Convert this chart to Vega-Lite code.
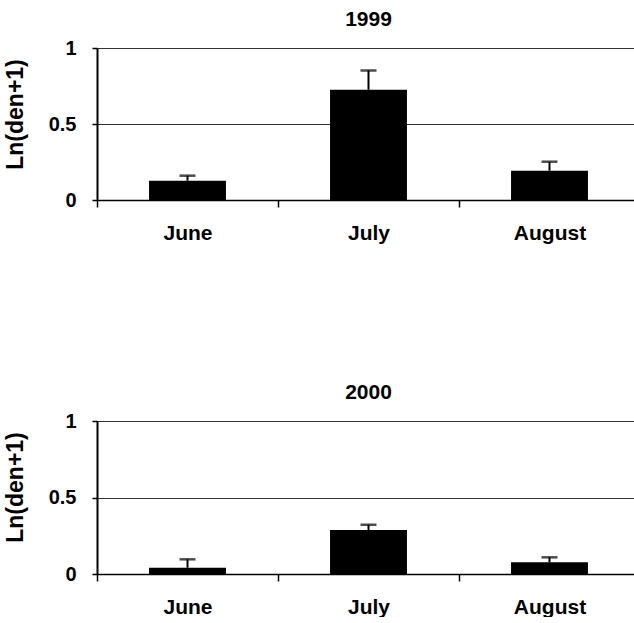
{
  "$schema": "https://vega.github.io/schema/vega-lite/v6.json",
  "background": "white",
  "padding": {"left": 4, "top": 9, "right": 0, "bottom": 0},
  "config": {
    "font": "Liberation Sans",
    "view": {"stroke": null},
    "title": {"fontSize": 21, "fontWeight": "bold", "color": "black", "offset": 8},
    "axis": {"domainColor": "black", "tickColor": "black", "labelColor": "black", "titleColor": "black", "labelFontWeight": "bold", "titleFontWeight": "bold"},
    "axisX": {"domainWidth": 1.5, "tickWidth": 1.5, "tickSize": 7, "labelFontSize": 21, "labelPadding": 15, "labelAngle": 0, "grid": false, "title": null},
    "axisY": {"domainWidth": 2, "tickWidth": 1.5, "tickSize": 5, "labelFontSize": 20, "labelPadding": 16, "gridColor": "#333", "gridWidth": 1, "gridOpacity": 1, "titleFontSize": 23, "titlePadding": 21, "titleY": 66}
  },
  "datasets": {
    "d": [
      {"year": 1999, "month": "June", "mean": 0.127, "upper": 0.16},
      {"year": 1999, "month": "July", "mean": 0.725, "upper": 0.852},
      {"year": 1999, "month": "August", "mean": 0.193, "upper": 0.252},
      {"year": 2000, "month": "June", "mean": 0.041, "upper": 0.096},
      {"year": 2000, "month": "July", "mean": 0.287, "upper": 0.322},
      {"year": 2000, "month": "August", "mean": 0.076, "upper": 0.109}
    ]
  },
  "spacing": 139,
  "vconcat": [
    {
      "title": "1999",
      "width": 543,
      "height": 152,
      "data": {"name": "d"},
      "transform": [{"filter": "datum.year == 1999"}],
      "encoding": {
        "x": {"field": "month", "type": "nominal", "sort": ["June", "July", "August"], "scale": {"paddingInner": 0.575, "paddingOuter": 0.2875}, "axis": {"tickOffset": -90.5, "labelOffset": 90.5}}
      },
      "layer": [
        {"mark": {"type": "bar", "color": "black"}, "encoding": {"y": {"field": "mean", "type": "quantitative", "scale": {"domain": [0, 1]}, "axis": {"values": [0, 0.5, 1], "format": "~g", "title": "Ln(den+1)"}}}},
        {"mark": {"type": "rule", "color": "black", "strokeWidth": 2}, "encoding": {"y": {"field": "mean", "type": "quantitative"}, "y2": {"field": "upper"}}},
        {"mark": {"type": "tick", "color": "black", "thickness": 2.5, "size": 16}, "encoding": {"y": {"field": "upper", "type": "quantitative"}}}
      ]
    },
    {
      "title": "2000",
      "width": 543,
      "height": 153,
      "data": {"name": "d"},
      "transform": [{"filter": "datum.year == 2000"}],
      "encoding": {
        "x": {"field": "month", "type": "nominal", "sort": ["June", "July", "August"], "scale": {"paddingInner": 0.575, "paddingOuter": 0.2875}, "axis": {"tickOffset": -90.5, "labelOffset": 90.5}}
      },
      "layer": [
        {"mark": {"type": "bar", "color": "black"}, "encoding": {"y": {"field": "mean", "type": "quantitative", "scale": {"domain": [0, 1]}, "axis": {"values": [0, 0.5, 1], "format": "~g", "title": "Ln(den+1)"}}}},
        {"mark": {"type": "rule", "color": "black", "strokeWidth": 2}, "encoding": {"y": {"field": "mean", "type": "quantitative"}, "y2": {"field": "upper"}}},
        {"mark": {"type": "tick", "color": "black", "thickness": 2.5, "size": 16}, "encoding": {"y": {"field": "upper", "type": "quantitative"}}}
      ]
    }
  ]
}
